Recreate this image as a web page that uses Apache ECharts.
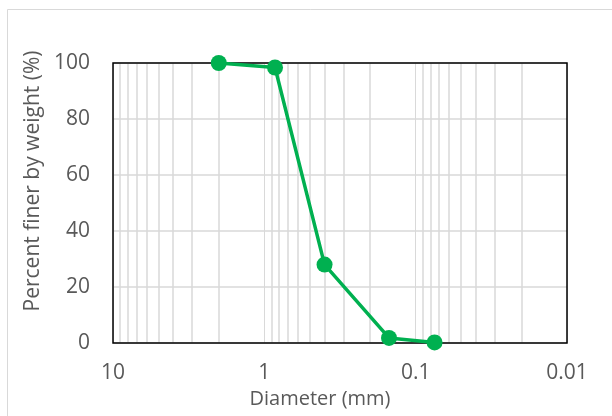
<!DOCTYPE html>
<html><head><meta charset="utf-8">
<script src="https://cdn.jsdelivr.net/npm/echarts@6/dist/echarts.min.js"></script>
<style>html,body{margin:0;padding:0;background:#fff}#c{width:612px;height:416px}</style>
</head><body><div id="c"></div>
<script>
const diameters = [2.0, 0.85, 0.4, 0.15, 0.075];
const percentFiner = [100, 98.4, 28, 1.8, 0.2];
const yTicks = [0, 20, 40, 60, 80, 100];
const xTickLabels = [10, 1, 0.1, 0.01];
const minorMultipliers = [2, 3, 4, 5, 6, 7, 8, 9];
const decades = [0.01, 0.1, 1];

const minorLines = [];
decades.forEach(d => minorMultipliers.forEach(m => minorLines.push({xAxis: +(d * m).toPrecision(3)})));

const chart = echarts.init(document.getElementById('c'), null, {renderer: 'canvas'});
const font = '"Open Sans", sans-serif';
chart.setOption({
  animation: false,
  backgroundColor: '#fff',
  graphic: [{type: 'rect', shape: {x: 7.5, y: 9.5, width: 620, height: 420}, style: {fill: 'none', stroke: '#d9d9d9', lineWidth: 1}, silent: true}],
  grid: {left: 113, top: 63, width: 454, height: 280, show: true, borderColor: '#000', borderWidth: 1.5, backgroundColor: 'transparent', z: 10},
  xAxis: {
    type: 'log', logBase: 10, min: 0.01, max: 10, inverse: true,
    name: 'Diameter (mm)', nameLocation: 'middle', nameGap: 43,
    nameTextStyle: {color: '#595959', fontSize: 20, fontFamily: font, padding: [0, 40, 0, 0]},
    axisLine: {show: false}, axisTick: {show: false},
    axisLabel: {color: '#595959', fontSize: 21, fontFamily: font, margin: 20,
      formatter: v => { const r = xTickLabels.find(t => Math.abs(Math.log10(t) - Math.log10(v)) < 1e-6); return r === undefined ? '' : String(r); }},
    splitLine: {show: true, lineStyle: {color: '#d9d9d9', width: 1}}
  },
  yAxis: {
    type: 'value', min: 0, max: 100, interval: 20,
    name: 'Percent finer by weight (%)', nameLocation: 'middle', nameGap: 67,
    nameTextStyle: {color: '#595959', fontSize: 21, fontFamily: font, padding: [0, 0, 0, 44]},
    axisLine: {show: false}, axisTick: {show: false},
    axisLabel: {color: '#595959', fontSize: 21, fontFamily: font, margin: 23},
    splitLine: {show: true, lineStyle: {color: '#d9d9d9', width: 1.5}}
  },
  series: [
    {type: 'line', data: [], silent: true,
      markLine: {silent: true, symbol: ['none', 'none'], label: {show: false},
        lineStyle: {color: '#d9d9d9', width: 1.5, type: 'solid'}, data: minorLines}},
    {type: 'line', data: diameters.map((d, i) => [d, percentFiner[i]]),
      symbol: 'circle', symbolSize: 16, z: 20,
      lineStyle: {color: '#00b050', width: 3.5},
      itemStyle: {color: '#00b050'}}
  ]
});
</script></body></html>
